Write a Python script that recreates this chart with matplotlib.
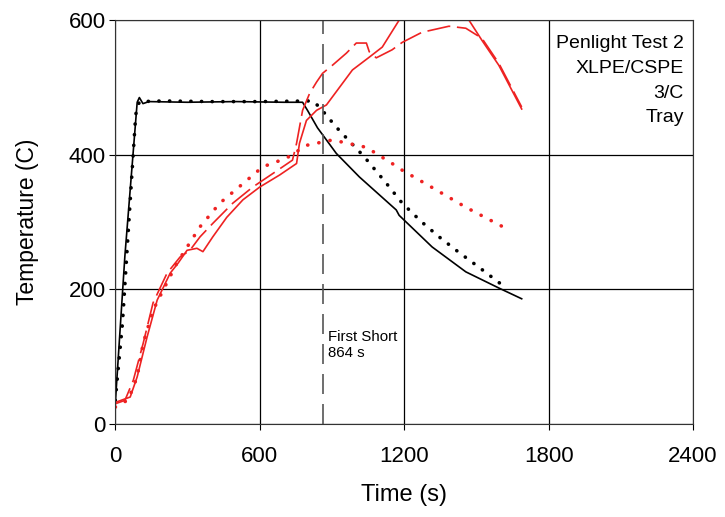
import numpy as np
import matplotlib
matplotlib.use("Agg")
import matplotlib.pyplot as plt

plt.rcParams['font.family'] = ['Liberation Sans', 'DejaVu Sans']

# ---------- data ----------

# black solid
bs_t = [0, 40, 91, 100, 115, 140, 300, 500, 700, 778, 800, 840, 877, 918, 1014, 1167, 1179, 1316, 1456, 1593, 1688]
bs_T = [30, 250, 478, 485, 476, 479, 478, 479, 478, 478, 465, 440, 422, 402, 367, 318, 310, 263, 226, 202, 186]

# black dotted
bd_t = [0, 30, 60, 85, 100, 200, 400, 600, 819, 848, 918, 960, 1034, 1125, 1192, 1270, 1345, 1427, 1510, 1605]
bd_T = [35, 150, 320, 460, 479, 480, 479, 479, 480, 471, 441, 425, 397, 358, 328, 301, 278, 255, 233, 207]

# red dotted
rd_t = [0, 54, 91, 116, 157, 199, 256, 352, 434, 530, 612, 711, 794, 902, 1043, 1150, 1192, 1332, 1456, 1615]
rd_T = [25, 36, 70, 120, 169, 199, 239, 293, 328, 357, 382, 395, 414, 422, 411, 387, 377, 348, 322, 292]

# red solid (goes off the top between ~1180 s and ~1470 s)
rs_t = [0, 8, 62, 91, 132, 174, 228, 261, 298, 339, 364, 405, 463, 530, 600, 683, 753,
        765, 794, 836, 877, 931, 985, 1055, 1109, 1179, 1200]
rs_T = [32, 33, 40, 70, 129, 184, 224, 239, 258, 261, 256, 278, 307, 333, 352, 370, 387,
        417, 451, 466, 474, 500, 526, 545, 560, 600, 615]
rs2_t = [1440, 1469, 1523, 1593, 1688]
rs2_T = [620, 600, 570, 533, 468]

# red long dash
rl_t = [0, 40, 75, 116, 157, 215, 269, 310, 352, 405, 488, 571, 654, 736, 753, 778, 807, 836, 861,
        902, 960, 1001, 1043, 1055, 1084, 1150, 1192, 1274, 1386, 1456, 1523, 1593, 1688]
rl_T = [30, 35, 65, 120, 180, 224, 248, 258, 278, 298, 328, 352, 372, 392, 417, 466, 491, 508, 521,
        533, 551, 566, 566, 553, 544, 556, 567, 582, 591, 588, 573, 536, 471]

first_short = 864

# ---------- plot ----------

fig, ax = plt.subplots(figsize=(7.25, 5.17), dpi=100)
fig.subplots_adjust(left=0.159, right=0.956, top=0.961, bottom=0.18)

red = '#ee2222'
ax.plot(bs_t, bs_T, color='black', lw=1.2)
ax.plot(bd_t, bd_T, color='black', lw=2.6, ls=(0, (0.05, 2.9)), dash_capstyle='round')
ax.plot(rd_t, rd_T, color=red, lw=2.6, ls=(0, (0.05, 3.1)), dash_capstyle='round')
ax.plot(rs_t, rs_T, color=red, lw=1.2)
ax.plot(rs2_t, rs2_T, color=red, lw=1.2)
ax.plot(rl_t, rl_T, color=red, lw=1.2, ls=(0, (14, 4)))

ax.axvline(first_short, color='#555555', lw=1.2, ls=(0, (12, 6)))
ax.text(first_short + 20, 140, "First Short\n864 s", fontsize=10.8, va='top', ha='left',
        linespacing=1.2)
ax.text(2362, 578, "Penlight Test 2\nXLPE/CSPE\n3/C\nTray", fontsize=14, va='top', ha='right',
        linespacing=1.6)

ax.set_xlim(0, 2400)
ax.set_ylim(0, 600)
ax.set_xticks([0, 600, 1200, 1800, 2400])
ax.set_yticks([0, 200, 400, 600])
ax.grid(True, color='black', lw=0.9)
ax.tick_params(direction='out', length=4, labelsize=16)
ax.tick_params(axis='x', pad=12)
ax.tick_params(axis='y', pad=3)
ax.set_xlabel('Time (s)', fontsize=17, labelpad=12)
ax.set_ylabel('Temperature (C)', fontsize=16.5, labelpad=21)
for s in ax.spines.values():
    s.set_color('#333333')

plt.savefig('out.png', dpi=100)
